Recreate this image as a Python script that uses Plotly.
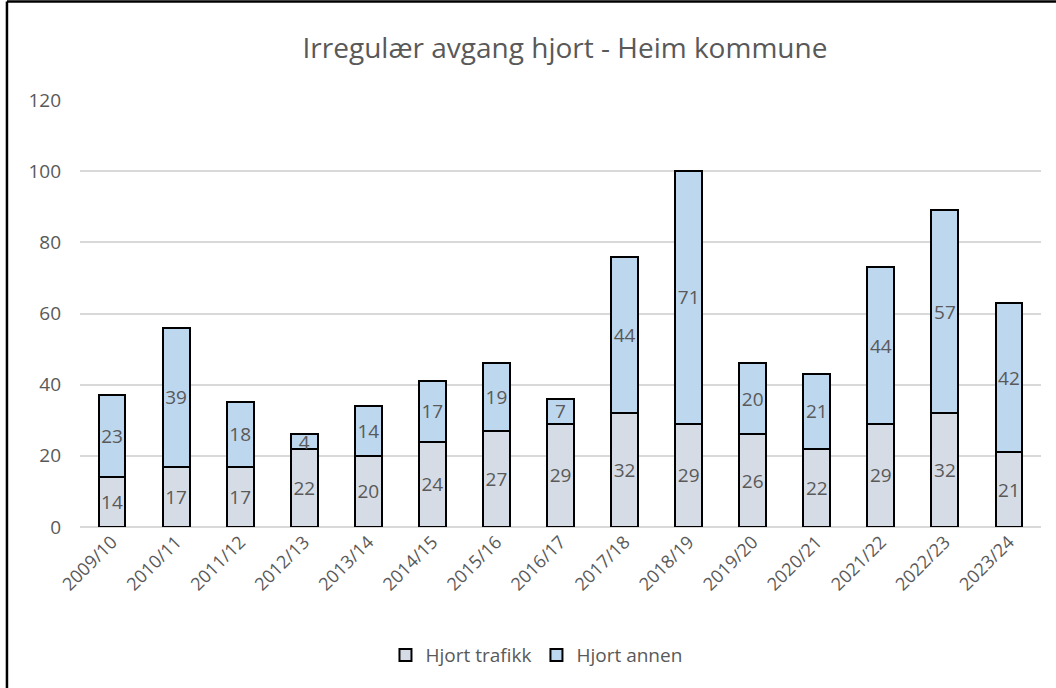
import plotly.graph_objects as go

# Season labels and counts of irregular deer losses
seasons = ["2009/10", "2010/11", "2011/12", "2012/13", "2013/14", "2014/15", "2015/16",
           "2016/17", "2017/18", "2018/19", "2019/20", "2020/21", "2021/22", "2022/23", "2023/24"]
trafikk = [14, 17, 17, 22, 20, 24, 27, 29, 32, 29, 26, 22, 29, 32, 21]
annen = [23, 39, 18, 4, 14, 17, 19, 7, 44, 71, 20, 21, 44, 57, 42]
y_ticks = [0, 20, 40, 60, 80, 100, 120]

FONT = "Open Sans"
GREY = "#595959"

fig = go.Figure()
fig.add_trace(go.Bar(
    x=seasons, y=trafikk, name="Hjort trafikk",
    marker=dict(color="#D6DCE5", line=dict(color="black", width=2)),
    text=trafikk, textposition="inside", insidetextanchor="middle", textangle=0,
    textfont=dict(family=FONT, size=19, color=GREY),
))
fig.add_trace(go.Bar(
    x=seasons, y=annen, name="Hjort annen",
    marker=dict(color="#BDD7EE", line=dict(color="black", width=2)),
    text=annen, textposition="inside", insidetextanchor="middle", textangle=0,
    textfont=dict(family=FONT, size=19, color=GREY),
))

# chart frame: only the left and top edges fall inside the page
frame = dict(type="line", xref="paper", yref="paper",
             line=dict(color="black", width=2.5), layer="above")

fig.update_layout(
    width=1056, height=688,
    barmode="stack", bargap=0.58,
    paper_bgcolor="white", plot_bgcolor="white",
    margin=dict(l=80, r=15, t=100, b=161),
    font=dict(family=FONT, color=GREY),
    uniformtext=dict(minsize=19, mode="show"),
    title=dict(text="Irregulær avgang hjort - Heim kommune",
               font=dict(family=FONT, size=28, color=GREY),
               x=0.535, xanchor="center", y=0.93, yanchor="middle"),
    showlegend=True,
    legend=dict(orientation="h", x=0.475, xanchor="center", y=-0.30, yanchor="middle",
                font=dict(family=FONT, size=19, color=GREY),
                traceorder="normal", itemwidth=30),
    xaxis=dict(tickangle=-45, tickfont=dict(family=FONT, size=18, color=GREY),
               showgrid=False, showline=False, ticks=""),
    yaxis=dict(range=[0, 120], tickvals=y_ticks, ticks="",
               tickfont=dict(family=FONT, size=19, color=GREY),
               showgrid=True, gridcolor="#D9D9D9", gridwidth=1.8,
               zeroline=True, zerolinecolor="#D9D9D9", zerolinewidth=1.8,
               showline=False, ticklabelstandoff=18),
    shapes=[
        dict(frame, x0=-0.076, x1=-0.076, y0=-0.45, y1=1.2307),
        dict(frame, x0=-0.076, x1=1.06, y0=1.2307, y1=1.2307),
    ],
)

fig.write_html("out.html")
